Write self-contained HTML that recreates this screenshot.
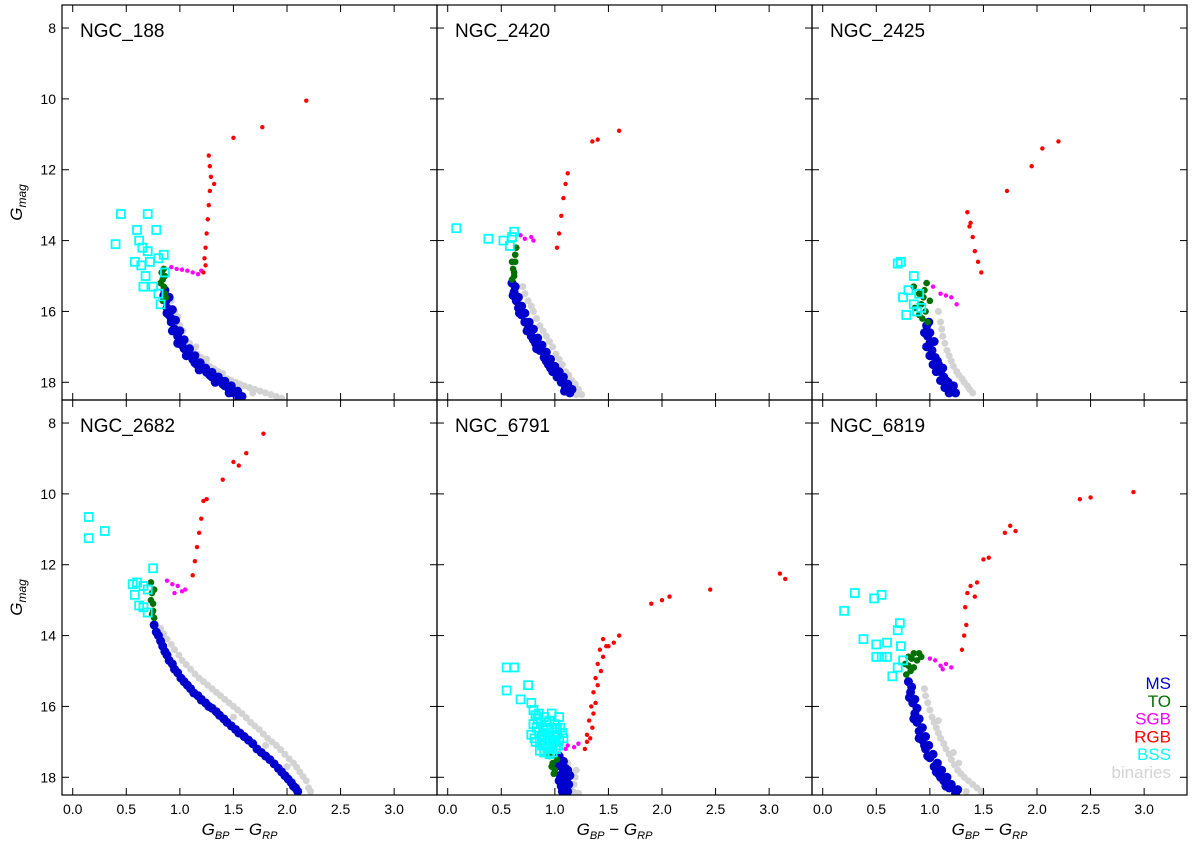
<!DOCTYPE html>
<html><head><meta charset="utf-8"><style>
html,body{margin:0;padding:0;background:#fff;}
svg text{font-family:"Liberation Sans","DejaVu Sans",sans-serif;}
</style></head><body>
<svg id="chart" width="1200" height="846" viewBox="0 0 1200 846" xmlns="http://www.w3.org/2000/svg"></svg>
<script>
const clusterNames = ["NGC_188","NGC_2420","NGC_2425","NGC_2682","NGC_6791","NGC_6819"];
const xTicks = [0.0,0.5,1.0,1.5,2.0,2.5,3.0];
const xTickLabels = ["0.0","0.5","1.0","1.5","2.0","2.5","3.0"];
const yTicks = [8,10,12,14,16,18];
const yTickLabels = ["8","10","12","14","16","18"];
const legendLabels = ["MS","TO","SGB","RGB","BSS","binaries"];

const msData = [
 [0.86,15.4,0.87,15.7,0.88,15.9,0.9,16.1,0.92,16.3,0.95,16.5,0.98,16.7,1.0,16.9,1.04,17.05,1.08,17.2,1.12,17.35,1.16,17.5,1.2,17.6,1.25,17.72,1.3,17.85,1.35,17.95,1.4,18.05,1.45,18.15,1.5,18.3,1.55,18.45,0.92,16.2,1.02,16.95,1.14,17.45,1.28,17.8,1.42,18.1,
  0.9,15.6,0.93,15.95,0.96,16.25,1.0,16.55,1.04,16.8,1.09,17.05,1.14,17.25,1.19,17.45,1.24,17.6,1.3,17.72,1.36,17.85,1.42,17.97,1.48,18.1,1.54,18.25,1.58,18.4,0.85,15.55,0.88,16.05,0.93,16.55,0.98,16.9,1.06,17.25,1.18,17.65,1.33,18.0,1.46,18.3],
 [0.6,15.2,0.62,15.45,0.64,15.7,0.66,15.9,0.69,16.1,0.72,16.3,0.75,16.5,0.78,16.7,0.82,16.9,0.86,17.1,0.9,17.3,0.94,17.5,0.98,17.7,1.02,17.85,1.06,18.0,1.1,18.15,1.14,18.3,0.8,16.8,0.92,17.4,
  0.63,15.3,0.66,15.6,0.69,15.85,0.72,16.05,0.76,16.3,0.8,16.5,0.84,16.75,0.88,16.95,0.92,17.15,0.96,17.35,1.0,17.55,1.04,17.7,1.08,17.85,1.12,18.05,1.16,18.2,0.61,15.55,0.67,16.05,0.74,16.55,0.83,17.05,0.96,17.6,1.09,18.25],
 [0.97,16.4,0.98,16.7,1.0,16.9,1.02,17.1,1.05,17.3,1.08,17.5,1.1,17.7,1.13,17.85,1.17,18.0,1.2,18.15,1.24,18.3,1.0,16.6,1.07,17.4,1.15,17.95,
  0.95,16.6,0.97,17.0,1.0,17.25,1.03,17.5,1.06,17.7,1.1,17.95,1.14,18.15,1.18,18.3,1.22,18.1,1.12,17.6,0.99,16.3,1.04,16.85],
 [0.76,13.7,0.8,14.0,0.84,14.3,0.88,14.55,0.93,14.8,0.98,15.05,1.04,15.3,1.1,15.5,1.17,15.7,1.24,15.9,1.3,16.05,1.37,16.25,1.44,16.45,1.52,16.65,1.6,16.85,1.68,17.05,1.76,17.3,1.84,17.5,1.92,17.75,1.98,17.95,2.04,18.15,2.08,18.3,1.55,16.75,1.2,15.8,
  0.78,13.9,0.82,14.15,0.86,14.45,0.9,14.7,0.95,14.95,1.01,15.2,1.07,15.4,1.13,15.62,1.2,15.82,1.27,16.0,1.34,16.15,1.41,16.35,1.48,16.55,1.56,16.75,1.64,16.95,1.72,17.2,1.8,17.4,1.88,17.62,1.95,17.85,2.01,18.05,2.06,18.25,2.1,18.4],
 [1.05,17.5,1.06,17.7,1.07,17.9,1.08,18.1,1.09,18.3,1.1,18.45,1.12,17.8,1.13,18.2,1.04,17.4,1.03,17.65,1.05,17.95,1.06,18.25,1.11,18.05,1.12,18.4,1.08,17.55,1.1,17.75,1.14,17.95,1.07,18.4,1.04,18.1],
 [0.8,15.3,0.82,15.6,0.84,15.9,0.86,16.2,0.88,16.45,0.9,16.7,0.93,16.95,0.96,17.2,1.0,17.45,1.04,17.7,1.08,17.9,1.13,18.1,1.18,18.3,1.24,18.45,0.95,17.1,1.1,18.0,
  0.83,15.45,0.86,15.8,0.88,16.05,0.9,16.35,0.93,16.6,0.96,16.85,0.99,17.1,1.03,17.35,1.07,17.6,1.11,17.8,1.16,18.0,1.2,18.2,1.26,18.35,0.81,15.75,0.85,16.35,0.9,16.9,0.98,17.4,1.06,17.85,1.15,18.25]
];
const toData = [
 [0.83,14.9,0.84,15.1,0.85,15.3,0.86,15.5,0.84,15.7,0.86,15.0,0.87,15.6,0.82,15.2,0.85,14.8],
 [0.6,14.6,0.61,14.8,0.62,15.0,0.63,14.4,0.64,14.2,0.62,14.9,0.6,15.1,0.63,14.6],
 [0.85,15.3,0.9,15.5,0.95,15.4,0.92,15.8,0.96,16.0,0.98,16.3,0.9,16.1,1.0,15.7,0.86,15.9,0.94,15.6,0.97,15.2,0.93,16.2],
 [0.73,12.5,0.74,12.8,0.75,13.1,0.74,13.4,0.76,12.7,0.75,13.3,0.73,13.0,0.76,13.5],
 [0.95,17.4,0.98,17.6,1.0,17.8,1.02,17.5,0.99,17.9,0.97,17.7],
 [0.77,14.8,0.8,14.6,0.85,14.5,0.88,14.7,0.82,15.0,0.85,14.9,0.78,15.1,0.92,14.6,0.8,14.85,0.9,14.5,0.83,14.65]
];
const sgbData = [
 [0.92,14.75,0.97,14.8,1.02,14.82,1.07,14.85,1.12,14.9,1.17,14.95,1.2,14.85],
 [0.68,13.85,0.72,13.95,0.78,13.9,0.8,14.0],
 [1.03,15.3,1.1,15.5,1.15,15.55,1.2,15.6,1.25,15.8],
 [0.88,12.45,0.93,12.55,0.98,12.6,1.02,12.75,1.05,12.7,0.95,12.8],
 [1.06,17.05,1.12,17.1,1.18,17.15,1.22,17.05,1.1,17.2],
 [1.0,14.65,1.05,14.7,1.1,14.85,1.15,14.8,1.2,14.9,1.12,14.95]
];
const rgbData = [
 [1.22,14.9,1.23,14.5,1.24,14.2,1.25,13.8,1.26,13.4,1.27,13.0,1.28,12.6,1.29,12.2,1.28,11.9,1.27,11.6,1.32,12.4,1.24,14.7,1.5,11.1,1.77,10.8,2.18,10.05],
 [1.02,14.2,1.04,13.8,1.06,13.3,1.08,12.8,1.1,12.4,1.12,12.1,1.35,11.2,1.4,11.15,1.6,10.9],
 [1.35,13.2,1.37,13.6,1.4,13.9,1.42,14.3,1.45,14.6,1.48,14.9,1.38,13.5,1.72,12.6,1.95,11.9,2.05,11.4,2.2,11.2],
 [1.12,12.3,1.14,11.9,1.16,11.5,1.18,11.1,1.2,10.7,1.22,10.2,1.25,10.15,1.4,9.6,1.5,9.1,1.55,9.2,1.62,8.85,1.78,8.3],
 [1.28,17.2,1.3,16.8,1.32,16.4,1.34,16.0,1.36,15.6,1.38,15.2,1.4,14.8,1.42,14.4,1.45,14.1,1.5,14.3,1.55,14.2,1.6,14.0,1.33,16.9,1.36,16.2,1.9,13.1,2.0,13.0,2.07,12.9,2.45,12.7,3.1,12.25,3.15,12.4,1.3,17.0,1.35,16.6,1.38,15.9,1.4,15.4,1.43,15.0,1.45,14.6,1.48,14.3],
 [1.3,14.4,1.32,14.0,1.34,13.7,1.33,13.2,1.35,12.8,1.38,12.6,1.42,12.9,1.44,12.5,1.5,11.85,1.55,11.8,1.7,11.1,1.75,10.9,1.8,11.05,2.4,10.15,2.5,10.1,2.9,9.95]
];
const bssData = [
 [0.45,13.25,0.7,13.25,0.4,14.1,0.6,13.7,0.62,14.0,0.65,14.2,0.7,14.3,0.78,13.7,0.58,14.6,0.64,14.7,0.72,14.6,0.8,14.5,0.85,14.4,0.68,15.0,0.75,15.3,0.8,15.5,0.82,15.8,0.66,15.3,0.86,14.9],
 [0.08,13.65,0.38,13.95,0.52,14.0,0.58,14.15,0.62,13.75,0.6,13.9],
 [0.7,14.65,0.73,14.6,0.8,15.4,0.75,15.6,0.85,15.0,0.9,15.5,0.85,15.8,0.78,16.1,0.92,15.9,0.88,16.0],
 [0.15,10.65,0.15,11.25,0.3,11.05,0.75,12.1,0.56,12.55,0.6,12.5,0.66,12.6,0.7,12.7,0.58,12.85,0.62,13.15,0.66,13.2,0.7,13.35],
 [0.55,14.9,0.62,14.9,0.55,15.55,0.75,15.4,0.68,15.8,0.78,15.9,0.8,16.1,0.85,16.2,0.9,16.3,0.95,16.4,1.0,16.5,1.05,16.6,0.8,16.5,0.85,16.7,0.9,16.8,0.95,16.9,1.0,17.0,0.82,17.0,0.88,17.1,0.93,17.2,0.98,17.3,1.02,16.8,1.08,16.9,0.78,16.8,0.84,16.35,0.92,16.6,0.97,16.2,1.04,16.3,0.86,17.25,
  0.82,16.25,0.87,16.45,0.92,16.45,0.97,16.6,1.02,16.65,1.07,16.75,0.83,16.6,0.88,16.85,0.93,16.95,0.98,17.05,1.03,17.1,0.81,16.9,0.86,16.95,0.91,17.05,0.96,17.15,1.01,17.2,0.89,16.65,0.94,16.75,0.99,16.85,1.04,16.95,0.9,17.3,0.95,17.35],
 [0.2,13.3,0.3,12.8,0.48,12.95,0.55,12.85,0.38,14.1,0.5,14.25,0.55,14.6,0.6,14.2,0.65,15.15,0.7,13.85,0.72,13.65,0.75,14.7,0.7,14.9,0.5,14.6,0.6,14.6,0.73,14.3]
];
const binData = [
 [0.95,16.0,1.0,16.4,1.05,16.8,1.12,17.1,1.2,17.3,1.28,17.55,1.36,17.7,1.44,17.9,1.52,18.0,1.6,18.1,1.7,18.2,1.8,18.3,1.9,18.4,1.15,17.0,1.4,17.75,
  0.92,15.7,0.98,16.15,1.03,16.55,1.09,16.9,1.16,17.2,1.24,17.45,1.32,17.62,1.48,17.95,1.56,18.05,1.65,18.15,1.75,18.25,1.85,18.35,1.95,18.45,1.25,17.35,1.5,18.1,1.68,18.3],
 [0.7,15.3,0.75,15.7,0.8,16.0,0.86,16.4,0.92,16.7,0.98,17.0,1.04,17.35,1.1,17.7,1.16,17.95,1.22,18.2,1.25,18.35,
  0.72,15.5,0.78,15.85,0.83,16.2,0.89,16.55,0.95,16.85,1.01,17.2,1.07,17.5,1.13,17.8,1.19,18.05,1.2,18.35],
 [1.1,16.3,1.12,16.7,1.16,17.1,1.2,17.4,1.25,17.7,1.3,17.9,1.35,18.1,1.4,18.3,1.08,16.0,1.11,16.5,1.14,16.9,1.18,17.25,1.22,17.55,1.27,17.8,1.32,18.0,1.37,18.2],
 [0.82,13.8,0.88,14.1,0.95,14.4,1.02,14.7,1.1,14.95,1.18,15.2,1.26,15.4,1.34,15.6,1.42,15.8,1.5,16.0,1.58,16.2,1.66,16.45,1.74,16.65,1.82,16.9,1.9,17.1,1.98,17.35,2.06,17.6,2.12,17.85,2.18,18.1,2.2,18.3,
  0.85,13.95,0.92,14.25,0.99,14.55,1.06,14.82,1.14,15.08,1.22,15.3,1.3,15.5,1.38,15.7,1.46,15.9,1.54,16.1,1.62,16.32,1.7,16.55,1.78,16.78,1.86,17.0,1.94,17.22,2.02,17.48,2.09,17.72,2.15,17.98,2.22,18.4,1.5,16.3,1.8,17.1,2.0,17.7],
 [1.12,17.6,1.15,17.9,1.18,18.2,1.22,18.45,1.2,17.8,1.14,18.3,1.17,18.4,1.19,18.0],
 [0.95,15.5,0.98,15.9,1.02,16.3,1.06,16.6,1.1,16.9,1.15,17.2,1.2,17.5,1.26,17.8,1.32,18.0,1.4,18.2,1.48,18.4,1.08,16.4,1.22,17.3,
  0.96,15.7,1.0,16.1,1.04,16.45,1.08,16.75,1.13,17.05,1.18,17.35,1.23,17.65,1.29,17.9,1.36,18.1,1.44,18.3,1.34,18.4,1.27,17.6]
];

const svg = document.getElementById('chart');
const NS = "http://www.w3.org/2000/svg";
const X0=-0.1, X1=3.4, Y0=7.35, Y1=18.5, PW=375, PH=395;
function mk(tag, attrs, parent){const e=document.createElementNS(NS,tag);for(const k in attrs)e.setAttribute(k,attrs[k]);(parent||svg).appendChild(e);return e;}

for(let p=0;p<6;p++){
  const col=p%3,row=Math.floor(p/3);
  const L=62+col*PW, T=5+row*PH;
  const sx=v=>L+(v-X0)/(X1-X0)*PW;
  const sy=v=>T+(v-Y0)/(Y1-Y0)*PH;
  const g=mk('g',{});
  
  
  const clipId='clip'+p;
  const cp=mk('clipPath',{id:clipId},g);mk('rect',{x:L,y:T,width:PW,height:PH},cp);
  const pts=mk('g',{'clip-path':'url(#'+clipId+')'},g);
  function dots(arr,color,r,name){
    for(let i=0;i<arr.length;i+=2){
      const c=mk('circle',{cx:sx(arr[i]),cy:sy(arr[i+1]),r:r,fill:color},pts);
      
      
    }
  }
  dots(binData[p],'#d3d3d3',3.5,'binary-point');
  dots(msData[p],'#0000cd',4.5,'ms-point');
  dots(toData[p],'#007000',3.3,'to-point');
  dots(sgbData[p],'#ff00ff',2.2,'sgb-point');
  dots(rgbData[p],'#ff0000',2.2,'rgb-point');
  for(let i=0;i<bssData[p].length;i+=2){
    const r=mk('rect',{x:sx(bssData[p][i])-4,y:sy(bssData[p][i+1])-4,width:8,height:8,fill:'none',stroke:'#00ffff','stroke-width':1.8},pts);
    
    
  }
  mk('rect',{x:L,y:T,width:PW,height:PH,fill:'none',stroke:'#000','stroke-width':1.2},g);
  xTicks.forEach((v,i)=>{
    const x=sx(v);
    mk('line',{x1:x,x2:x,y1:T+PH,y2:T+PH-7,stroke:'#000'},g);
    mk('line',{x1:x,x2:x,y1:T,y2:T+7,stroke:'#000'},g);
    if(row===1){const t=mk('text',{x:x,y:T+PH+19,'font-size':14,'text-anchor':'middle'},g);t.textContent=xTickLabels[i];
      
      }
  });
  yTicks.forEach((v,i)=>{
    const y=sy(v);
    mk('line',{x1:L,x2:L+7,y1:y,y2:y,stroke:'#000'},g);
    mk('line',{x1:L+PW,x2:L+PW-7,y1:y,y2:y,stroke:'#000'},g);
    if(col===0){const t=mk('text',{x:L-6,y:y+5,'font-size':14,'text-anchor':'end'},g);t.textContent=yTickLabels[i];
      
      }
  });
  const title=mk('text',{x:L+18,y:T+32,'font-size':19},g);title.textContent=clusterNames[p];
  
  
  if(col===0){
    const yt=mk('text',{transform:`translate(22,${T+PH/2}) rotate(-90)`,'font-size':17,'text-anchor':'middle','font-style':'italic'},g);
    yt.innerHTML='G<tspan font-size="12" dy="4">mag</tspan>';
    
    
  }
  if(row===1){
    const xt=mk('text',{x:L+PW/2-10,y:835,'font-size':17,'text-anchor':'middle','font-style':'italic'},g);
    xt.innerHTML='G<tspan font-size="11" dy="4">BP</tspan><tspan dy="-4" font-style="normal"> − </tspan>G<tspan font-size="11" dy="4">RP</tspan>';
    
    
  }
}
const legendColors=['#0000cd','#007000','#ff00ff','#ff0000','#00ffff','#d3d3d3'];
const lg=mk('g',{});


legendLabels.forEach((s,i)=>{
  const t=mk('text',{x:1171,y:689+i*17.8,'font-size':17,'text-anchor':'end',fill:legendColors[i]},lg);
  t.textContent=s;
  
  
});
</script>
</body></html>
